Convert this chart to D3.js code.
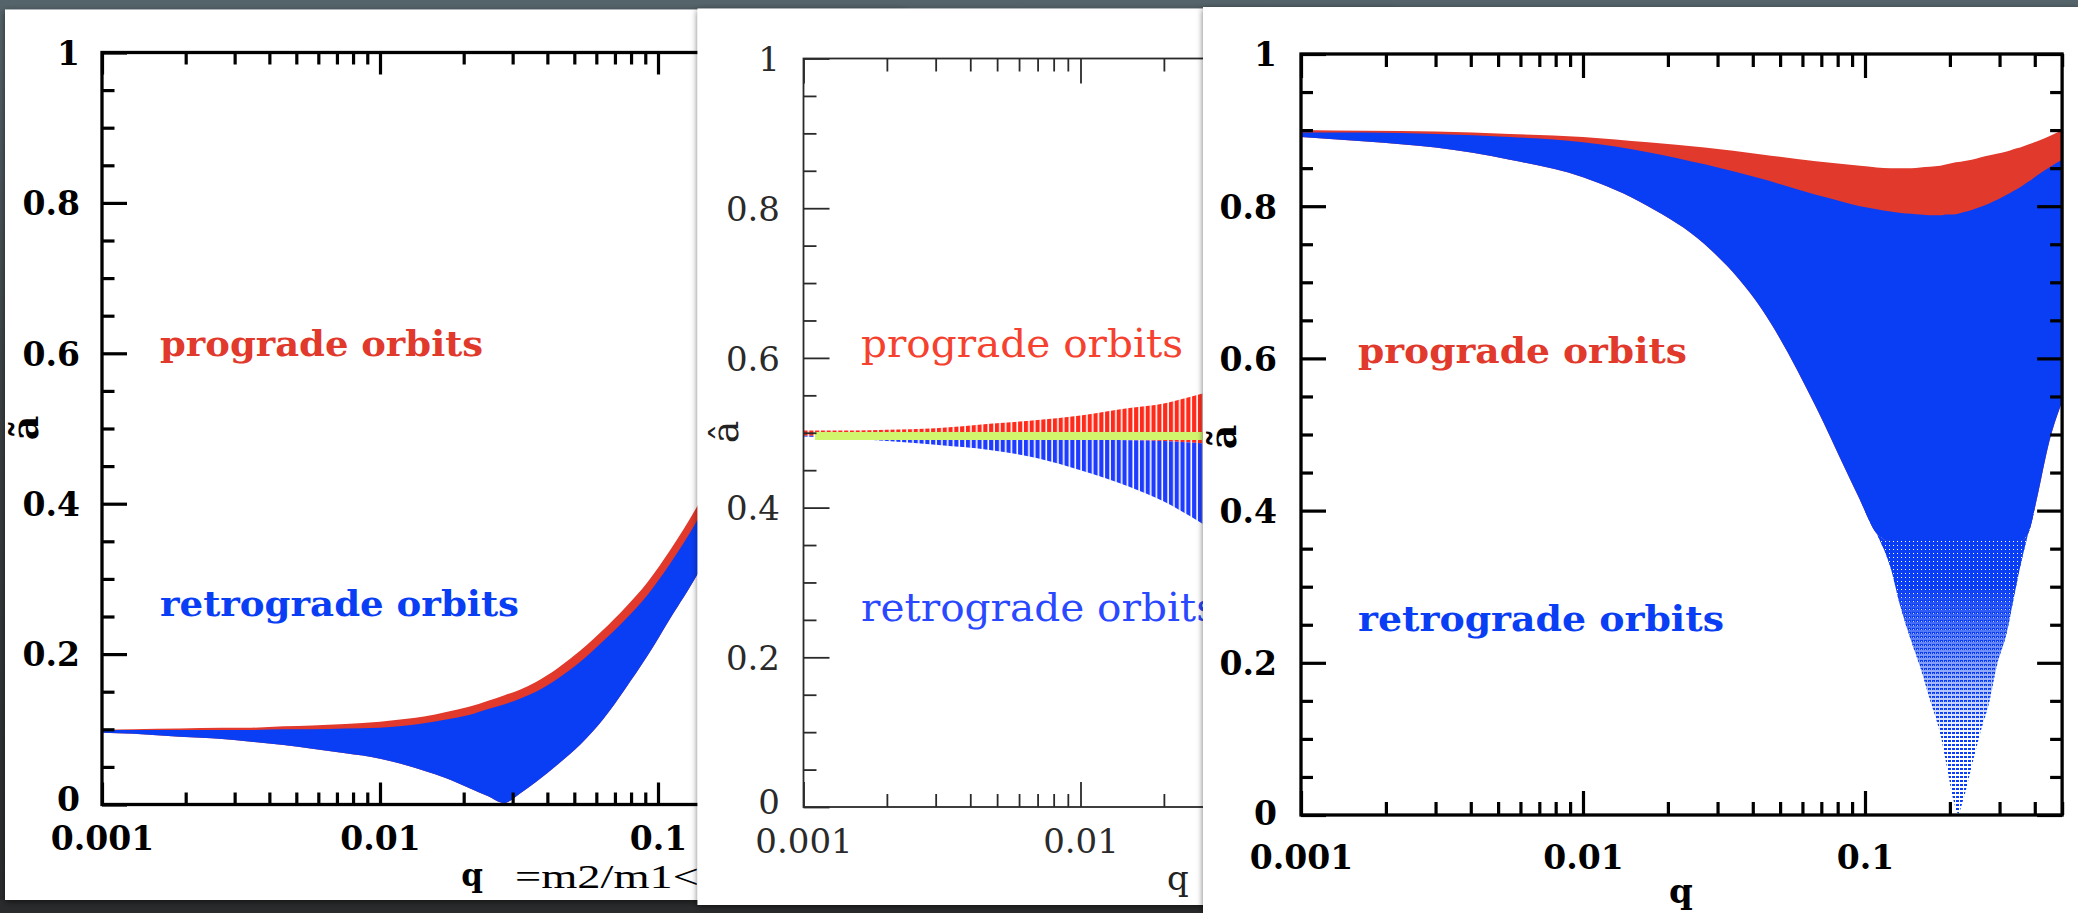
<!DOCTYPE html>
<html>
<head>
<meta charset="utf-8">
<script src="https://cdn.jsdelivr.net/npm/d3@7"></script>
<style>
  html, body { margin: 0; padding: 0; background: #2d2f30; overflow: hidden; }
  svg { display: block; }
</style>
</head>
<body>
<svg id="fig" width="2078" height="913"></svg>
<script>
// ---------------- axis ticks ----------------
const xDomain = [0.001, 0.5];
const xMajorTicks = [0.001, 0.01, 0.1];
const xMajorLabels = ["0.001", "0.01", "0.1"];
const xMinorTicks = [0.002, 0.003, 0.004, 0.005, 0.006, 0.007, 0.008, 0.009,
                     0.02, 0.03, 0.04, 0.05, 0.06, 0.07, 0.08, 0.09,
                     0.2, 0.3, 0.4, 0.5];
const yMajorTicks = [0, 0.2, 0.4, 0.6, 0.8, 1];
const yMajorLabels = ["0", "0.2", "0.4", "0.6", "0.8", "1"];
const yMinorTicks = [0.05, 0.1, 0.15, 0.25, 0.3, 0.35, 0.45, 0.5, 0.55,
                     0.65, 0.7, 0.75, 0.85, 0.9, 0.95];

// ---------------- panel 1: ã' versus q ----------------
const p1Q     = [0.001, 0.0013, 0.0019, 0.0027, 0.0033, 0.0045, 0.0057, 0.0075, 0.01, 0.0125,
                 0.0144, 0.0173, 0.0209, 0.0245, 0.0279, 0.032, 0.0364, 0.0438, 0.0527, 0.0634,
                 0.0763, 0.0918, 0.1105, 0.14, 0.16];
const p1Upper = [0.099, 0.100, 0.101, 0.102, 0.102, 0.104, 0.105, 0.107, 0.110, 0.114,
                 0.117, 0.123, 0.130, 0.138, 0.145, 0.153, 0.163, 0.182, 0.205, 0.232,
                 0.262, 0.296, 0.338, 0.400, 0.440];
const p1Split = [0.099, 0.099, 0.099, 0.099, 0.099, 0.100, 0.100, 0.101, 0.102, 0.105,
                 0.108, 0.113, 0.119, 0.127, 0.133, 0.141, 0.150, 0.168, 0.190, 0.217,
                 0.246, 0.279, 0.320, 0.381, 0.420];
const p1Lower = [0.0955, 0.094, 0.090, 0.087, 0.084, 0.079, 0.074, 0.068, 0.061, 0.052,
                 0.045, 0.035, 0.022, 0.011, 0.002, 0.015, 0.030, 0.054, 0.080, 0.113,
                 0.154, 0.198, 0.247, 0.309, 0.350];

// ---------------- panel 2 ----------------
const p2Q     = [0.001, 0.0015, 0.002, 0.003, 0.0047, 0.007, 0.01, 0.015, 0.02, 0.025, 0.03];
const p2Upper = [0.503, 0.503, 0.504, 0.506, 0.512, 0.517, 0.523, 0.533, 0.539, 0.548, 0.556];
const p2Split = [0.496, 0.496, 0.495, 0.494, 0.493, 0.492, 0.491, 0.490, 0.489, 0.487, 0.485];
const p2Lower = [0.495, 0.492, 0.489, 0.484, 0.477, 0.466, 0.450, 0.428, 0.408, 0.388, 0.370];
const p2LineQ = [0.0011, 0.03];
const p2LineLevel = 0.4955;

// ---------------- panel 3 ----------------
const p3Q     = [0.001, 0.0017, 0.003, 0.0055, 0.01, 0.017, 0.027, 0.043, 0.067, 0.085,
                 0.096, 0.11, 0.123, 0.134, 0.146, 0.157, 0.17, 0.185, 0.195, 0.206,
                 0.214, 0.223, 0.239, 0.256, 0.277, 0.293, 0.318, 0.336, 0.355, 0.379,
                 0.406, 0.45, 0.5];
const p3Upper = [0.900, 0.899, 0.898, 0.895, 0.891, 0.884, 0.877, 0.868, 0.859, 0.855,
                 0.853, 0.851, 0.850, 0.850, 0.850, 0.851, 0.852, 0.853, 0.855, 0.857,
                 0.858, 0.859, 0.861, 0.864, 0.867, 0.869, 0.872, 0.875, 0.877, 0.881,
                 0.885, 0.892, 0.900];
const p3Split = [0.897, 0.897, 0.895, 0.891, 0.884, 0.871, 0.855, 0.836, 0.815, 0.805,
                 0.800, 0.796, 0.793, 0.791, 0.790, 0.789, 0.788, 0.788, 0.789, 0.789,
                 0.790, 0.792, 0.795, 0.799, 0.804, 0.808, 0.815, 0.820, 0.825, 0.832,
                 0.840, 0.851, 0.861];
const p3Lower = [0.891, 0.885, 0.877, 0.861, 0.838, 0.800, 0.750, 0.665, 0.536, 0.455,
                 0.414, 0.370, 0.326, 0.272, 0.228, 0.194, 0.151, 0.106, 0.064, 0.019,
                 0.002, 0.020, 0.064, 0.107, 0.151, 0.195, 0.239, 0.283, 0.326, 0.370,
                 0.414, 0.490, 0.543];
const p3DenseFloor = 0.36;   // below this the retrograde points thin out

// ---------------- drawing ----------------
const W = 2078, H = 913;
const fig = d3.select("#fig");
const defs = fig.append("defs");

const bgGrad = defs.append("linearGradient").attr("id", "bgGrad")
  .attr("x1", 0).attr("y1", 0).attr("x2", 0).attr("y2", 1);
bgGrad.append("stop").attr("offset", 0).attr("stop-color", "#55646a");
bgGrad.append("stop").attr("offset", 0.45).attr("stop-color", "#3a4043");
bgGrad.append("stop").attr("offset", 1).attr("stop-color", "#2a2b2c");
fig.append("rect").attr("width", W).attr("height", H).attr("fill", "url(#bgGrad)");

const shadow = defs.append("filter").attr("id", "cardShadow")
  .attr("x", "-3%").attr("y", "-3%").attr("width", "106%").attr("height", "106%");
shadow.append("feDropShadow").attr("dx", 0).attr("dy", 2).attr("stdDeviation", 3)
  .attr("flood-color", "#000").attr("flood-opacity", 0.55);

const BOLD = "'DejaVu Serif', serif";

function buildPanel(L) {
  const g = fig.append("g");
  g.append("rect")
    .attr("x", L.card[0]).attr("y", L.card[1])
    .attr("width", L.card[2]).attr("height", L.card[3])
    .attr("fill", "#ffffff").attr("filter", "url(#cardShadow)");
  const x = d3.scaleLog().domain(xDomain)
    .range([L.left, L.left + L.decade * Math.log10(xDomain[1] / xDomain[0])]);
  const y = d3.scaleLinear().domain([0, 1]).range([L.bottom, L.top]);
  const right = x.range()[1];
  defs.append("clipPath").attr("id", L.id + "Clip")
    .append("rect").attr("x", L.left).attr("y", L.top)
    .attr("width", right - L.left).attr("height", L.bottom - L.top);
  const plot = g.append("g").attr("clip-path", `url(#${L.id}Clip)`);
  return { g, x, y, plot, right };
}

function styleAxis(sel, L) {
  sel.select(".domain").remove();
  sel.selectAll(".tick line").attr("stroke", L.ink).attr("stroke-width", L.tickW);
  sel.attr("font-family", L.font).attr("font-size", L.fontSize)
     .attr("font-weight", L.weight);
  sel.selectAll(".tick text").attr("fill", L.ink);
}

function drawAxes(P, L) {
  const { g, x, y, right } = P;
  const none = () => "";
  // bottom
  g.append("g").attr("transform", `translate(0,${L.bottom})`)
    .call(d3.axisBottom(x).tickValues(xMinorTicks).tickSizeInner(-L.xMinor).tickSizeOuter(0).tickFormat(none))
    .call(s => styleAxis(s, L));
  g.append("g").attr("transform", `translate(0,${L.bottom})`)
    .call(d3.axisBottom(x).tickValues(xMajorTicks).tickSizeInner(-L.xMajor).tickSizeOuter(0)
      .tickFormat((d, i) => xMajorLabels[i]))
    .call(s => styleAxis(s, L))
    .call(s => s.selectAll(".tick text").attr("y", L.xLabelBase - L.bottom).attr("dy", null))
    // labels that would sit under the neighbouring card are left out
    .call(s => s.selectAll(".tick text").filter(d => x(d) > L.labelLimit).remove());
  // top
  g.append("g").attr("transform", `translate(0,${L.top})`)
    .call(d3.axisTop(x).tickValues(xMinorTicks).tickSizeInner(-L.xMinor).tickSizeOuter(0).tickFormat(none))
    .call(s => styleAxis(s, L));
  g.append("g").attr("transform", `translate(0,${L.top})`)
    .call(d3.axisTop(x).tickValues(xMajorTicks).tickSizeInner(-L.xMajor).tickSizeOuter(0).tickFormat(none))
    .call(s => styleAxis(s, L));
  // left
  g.append("g").attr("transform", `translate(${L.left},0)`)
    .call(d3.axisLeft(y).tickValues(yMinorTicks).tickSizeInner(-L.yMinor).tickSizeOuter(0).tickFormat(none))
    .call(s => styleAxis(s, L));
  g.append("g").attr("transform", `translate(${L.left},0)`)
    .call(d3.axisLeft(y).tickValues(yMajorTicks).tickSizeInner(-L.yMajor).tickSizeOuter(0)
      .tickFormat((d, i) => yMajorLabels[i]))
    .call(s => styleAxis(s, L))
    .call(s => s.selectAll(".tick text").attr("x", -L.yLabelGap).attr("dy", "0.36em")
      .attr("y", d => d === 0 ? -L.zeroLift : 0));
  // right
  g.append("g").attr("transform", `translate(${right},0)`)
    .call(d3.axisRight(y).tickValues(yMinorTicks).tickSizeInner(-L.yMinor).tickSizeOuter(0).tickFormat(none))
    .call(s => styleAxis(s, L));
  g.append("g").attr("transform", `translate(${right},0)`)
    .call(d3.axisRight(y).tickValues(yMajorTicks).tickSizeInner(-L.yMajor).tickSizeOuter(0).tickFormat(none))
    .call(s => styleAxis(s, L));
  // frame
  g.append("rect").attr("x", L.left).attr("y", L.top)
    .attr("width", right - L.left).attr("height", L.bottom - L.top)
    .attr("fill", "none").attr("stroke", L.ink).attr("stroke-width", L.frameW);
}

function band(P, q, top, bottom) {
  return d3.area().curve(d3.curveMonotoneX)
    .x((d, i) => P.x(q[i]))
    .y0((d, i) => P.y(bottom[i]))
    .y1((d, i) => P.y(top[i]))(q);
}

function label(g, txt, x, y, opts) {
  const t = g.append("text").attr("x", x).attr("y", y).text(txt)
    .attr("font-family", opts.font).attr("font-size", opts.size)
    .attr("font-weight", opts.weight || "normal").attr("fill", opts.fill || "#000");
  if (opts.len) t.attr("textLength", opts.len).attr("lengthAdjust", "spacingAndGlyphs");
  if (opts.anchor) t.attr("text-anchor", opts.anchor);
  if (opts.rotate) t.attr("transform", `rotate(-90,${x},${y})`);
  return t;
}

// ===== panel 1 =====
const L1 = { id: "p1", card: [5, 9.5, 900, 890.5], left: 102, top: 52.5, bottom: 804.5, decade: 278,
  ink: "#000", tickW: 3.2, frameW: 3.3, xMajor: 22, xMinor: 12, yMajor: 25, yMinor: 12.5,
  font: BOLD, fontSize: 33, weight: "bold", xLabelBase: 850, yLabelGap: 22, zeroLift: 6, labelLimit: 697 };
const P1 = buildPanel(L1);
const RED1 = "#e1392b", BLUE1 = "#0a3ef4";
P1.plot.append("path").attr("d", band(P1, p1Q, p1Upper, p1Lower)).attr("fill", RED1);
P1.plot.append("path").attr("d", band(P1, p1Q, p1Split, p1Lower)).attr("fill", BLUE1);
drawAxes(P1, L1);
label(P1.g, "prograde orbits", 160, 356, { font: BOLD, size: 36, weight: "bold", fill: RED1, len: 323 });
label(P1.g, "retrograde orbits", 160, 616, { font: BOLD, size: 36, weight: "bold", fill: BLUE1, len: 359 });
label(P1.g, "ã", 38, 428, { font: BOLD, size: 38, weight: "bold", anchor: "middle", rotate: true });
label(P1.g, "q", 472, 886, { font: BOLD, size: 31, weight: "bold", anchor: "middle" });
label(P1.g, "=m2/m1<", 515, 888, { font: "'Liberation Serif', 'Times New Roman', serif", size: 34, len: 184 });

// ===== panel 2 =====
const L2 = { id: "p2", card: [697.5, 8.5, 700, 896.5], left: 803.5, top: 58.5, bottom: 807, decade: 277,
  ink: "#2a2a2a", tickW: 1.8, frameW: 1.8, xMajor: 25, xMinor: 13, yMajor: 26, yMinor: 13,
  font: "'DejaVu Serif', serif", fontSize: 34, weight: "normal", xLabelBase: 853, yLabelGap: 23.5,
  zeroLift: 6, labelLimit: 1203 };
const P2 = buildPanel(L2);
const RED2 = "#ff2b1a", BLUE2 = "#1e3cff", GREEN2 = "#d2f56e";
const stripes = (id, color) => {
  const p = defs.append("pattern").attr("id", id).attr("patternUnits", "userSpaceOnUse")
    .attr("x", L2.left).attr("y", 0).attr("width", 5.8).attr("height", 8);
  p.append("rect").attr("width", 4.2).attr("height", 8).attr("fill", color);
};
stripes("p2RedStripes", RED2);
stripes("p2BlueStripes", BLUE2);
P2.plot.append("path").attr("d", band(P2, p2Q, p2Upper, p2Split)).attr("fill", "url(#p2RedStripes)");
P2.plot.append("path").attr("d", band(P2, p2Q, p2Split, p2Lower)).attr("fill", "url(#p2BlueStripes)");
P2.plot.append("line")
  .attr("x1", P2.x(p2LineQ[0])).attr("x2", P2.x(p2LineQ[1]))
  .attr("y1", P2.y(p2LineLevel)).attr("y2", P2.y(p2LineLevel))
  .attr("stroke", GREEN2).attr("stroke-width", 8);
drawAxes(P2, L2);
label(P2.g, "prograde orbits", 861, 357, { font: "'DejaVu Serif', serif", size: 40, fill: "#f5412e", len: 322 });
label(P2.g, "retrograde orbits", 861, 621, { font: "'DejaVu Serif', serif", size: 40, fill: "#2a48ff", len: 356 });
label(P2.g, "â", 738, 432, { font: "'DejaVu Serif', serif", size: 38, fill: "#222", anchor: "middle", rotate: true });
label(P2.g, "q", 1178, 890, { font: "'DejaVu Serif', serif", size: 34, fill: "#222", anchor: "middle" });

// ===== panel 3 =====
const L3 = { id: "p3", card: [1203, 7, 875, 906], left: 1301, top: 54, bottom: 815, decade: 282,
  ink: "#000", tickW: 3.2, frameW: 3.3, xMajor: 24, xMinor: 13, yMajor: 25, yMinor: 12,
  font: BOLD, fontSize: 33, weight: "bold", xLabelBase: 869, yLabelGap: 24, zeroLift: 2, labelLimit: 2078 };
const P3 = buildPanel(L3);
const RED3 = "#e1392b", BLUE3 = "#0a3ef4";

// speckled fill where the retrograde points start to thin out
const dense = defs.append("pattern").attr("id", "p3Dense").attr("patternUnits", "userSpaceOnUse")
  .attr("width", 4).attr("height", 4);
dense.append("rect").attr("width", 4).attr("height", 4).attr("fill", BLUE3);
dense.append("rect").attr("x", 1).attr("y", 1).attr("width", 1).attr("height", 1).attr("fill", "#fff");
const sparse = defs.append("pattern").attr("id", "p3Sparse").attr("patternUnits", "userSpaceOnUse")
  .attr("width", 4).attr("height", 4);
sparse.append("rect").attr("width", 3).attr("height", 2).attr("fill", BLUE3);
const fadeGrad = defs.append("linearGradient").attr("id", "p3FadeGrad")
  .attr("gradientUnits", "userSpaceOnUse")
  .attr("x1", 0).attr("x2", 0).attr("y1", P3.y(0.30)).attr("y2", P3.y(0.10));
fadeGrad.append("stop").attr("offset", 0).attr("stop-color", "#fff");
fadeGrad.append("stop").attr("offset", 1).attr("stop-color", "#000");
const fadeMask = defs.append("mask").attr("id", "p3Fade").attr("maskUnits", "userSpaceOnUse")
  .attr("x", 0).attr("y", 0).attr("width", W).attr("height", H);
fadeMask.append("rect").attr("width", W).attr("height", H).attr("fill", "url(#p3FadeGrad)");

const p3SolidFloor = p3Lower.map(v => Math.max(v, p3DenseFloor));
P3.plot.append("path").attr("d", band(P3, p3Q, p3Upper, p3SolidFloor)).attr("fill", RED3);
P3.plot.append("path").attr("d", band(P3, p3Q, p3Split, p3SolidFloor)).attr("fill", BLUE3);
P3.plot.append("path").attr("d", band(P3, p3Q, p3SolidFloor, p3Lower)).attr("fill", "url(#p3Sparse)");
P3.plot.append("path").attr("d", band(P3, p3Q, p3SolidFloor, p3Lower))
  .attr("fill", "url(#p3Dense)").attr("mask", "url(#p3Fade)");
drawAxes(P3, L3);
label(P3.g, "prograde orbits", 1358, 363, { font: BOLD, size: 36, weight: "bold", fill: RED3, len: 329 });
label(P3.g, "retrograde orbits", 1358, 631, { font: BOLD, size: 36, weight: "bold", fill: BLUE3, len: 366 });
label(P3.g, "ã", 1236, 437, { font: BOLD, size: 38, weight: "bold", anchor: "middle", rotate: true });
label(P3.g, "q", 1681, 903, { font: BOLD, size: 34, weight: "bold", anchor: "middle" });
</script>
</body>
</html>
